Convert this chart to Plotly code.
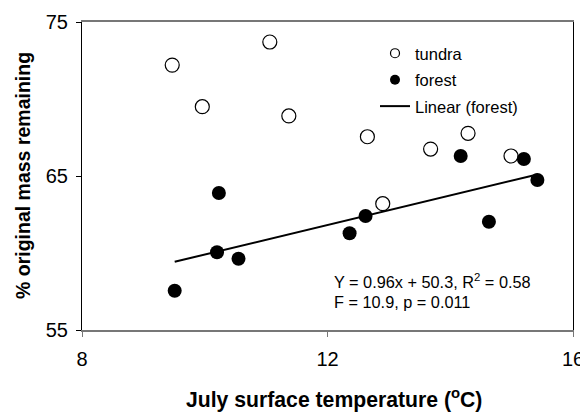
import plotly.graph_objects as go

tundra_x = [9.47, 9.96, 11.06, 11.37, 12.65, 12.90, 13.68, 14.29, 14.99]
tundra_y = [72.2, 69.5, 73.7, 68.9, 67.55, 63.2, 66.75, 67.77, 66.3]
forest_x = [9.51, 10.20, 10.23, 10.55, 12.36, 12.62, 14.17, 14.63, 15.20, 15.42]
forest_y = [57.55, 60.05, 63.9, 59.63, 61.28, 62.4, 66.3, 62.03, 66.1, 64.74]
slope, intercept = 0.96, 50.3
x_ticks = [8, 12, 16]
y_ticks = [55, 65, 75]

fit_y = [slope * x + intercept for x in forest_x]

FONT = "Liberation Sans, Arial, sans-serif"
# page has an 8px body margin, so the figure is 8px smaller and all coordinates shift by 8
OFF = 8
W, H = 588 - OFF, 412 - OFF
L, T = 82 - OFF, 22 - OFF
R, B = W - (573 - OFF), H - (330 - OFF)
PW, PH = W - L - R, H - T - B


def px(xp):
    return (xp - OFF - L) / PW


def py(yp):
    return 1 - (yp - OFF - T) / PH


fig = go.Figure()
fig.add_trace(go.Scatter(x=tundra_x, y=tundra_y, mode="markers", showlegend=False,
                         marker=dict(symbol="circle-open", size=14, color="black", line=dict(width=1.2, color="black"))))
fig.add_trace(go.Scatter(x=forest_x, y=forest_y, mode="markers", showlegend=False,
                         marker=dict(symbol="circle", size=14, color="black")))
fig.add_trace(go.Scatter(x=forest_x, y=fit_y, mode="lines", showlegend=False,
                         line=dict(color="black", width=2)))
# legend entries (small symbols as in the reference)
fig.add_trace(go.Scatter(x=[None], y=[None], mode="markers", name="tundra", legendgroup="a",
                         marker=dict(symbol="circle-open", size=9, color="black", line=dict(width=1.2, color="black"))))
fig.add_trace(go.Scatter(x=[None], y=[None], mode="markers", name="forest", legendgroup="b",
                         marker=dict(symbol="circle", size=10, color="black")))
fig.add_trace(go.Scatter(x=[None], y=[None], mode="lines", name="Linear (forest)", legendgroup="c",
                         line=dict(color="black", width=2)))

fig.update_layout(
    width=W, height=H,
    margin=dict(l=L, r=R, t=T, b=B),
    paper_bgcolor="white", plot_bgcolor="white",
    font=dict(family=FONT, color="black"),
    showlegend=True,
    legend=dict(x=px(375), y=py(36), xanchor="left", yanchor="top",
                bgcolor="rgba(0,0,0,0)", font=dict(size=16.5, family=FONT),
                tracegroupgap=2, itemsizing="trace"),
)
fig.add_annotation(text="Y = 0.96x + 50.3, R<sup>2</sup> = 0.58",
                   xref="paper", yref="paper", x=px(332), y=py(281),
                   xanchor="left", yanchor="middle", align="left", showarrow=False,
                   font=dict(size=16.3, family=FONT))
fig.add_annotation(text="F = 10.9, p = 0.011",
                   xref="paper", yref="paper", x=px(332), y=py(302),
                   xanchor="left", yanchor="middle", align="left", showarrow=False,
                   font=dict(size=16.3, family=FONT))
# axis titles
fig.add_annotation(text="<b>July surface temperature (<sup>o</sup>C)</b>",
                   xref="paper", yref="paper", x=px(334), y=py(398),
                   xanchor="center", yanchor="middle", showarrow=False,
                   font=dict(size=21.2, family=FONT))
fig.add_annotation(text="<b>% original mass remaining</b>", textangle=-90,
                   xref="paper", yref="paper", x=px(23), y=py(176),
                   xanchor="center", yanchor="middle", showarrow=False,
                   font=dict(size=19.5, family=FONT))

fig.update_xaxes(range=[8, 16], tickvals=x_ticks, ticks="outside", ticklen=5, tickcolor="#777",
                 showgrid=False, zeroline=False, showline=True, linecolor="#777", linewidth=1.5,
                 mirror=True, tickfont=dict(size=20, family=FONT), ticklabelstandoff=5,
                 automargin=False)
fig.update_yaxes(range=[55, 75], tickvals=y_ticks, ticks="outside", ticklen=5, tickcolor="black",
                 showgrid=False, zeroline=False, showline=True, linecolor="black", linewidth=1,
                 mirror=True, tickfont=dict(size=20, family=FONT), ticklabelstandoff=4,
                 automargin=False)
fig.write_html("out.html",
               post_script="document.documentElement.style.overflow='hidden';"
                           "document.body.style.overflow='hidden';")
